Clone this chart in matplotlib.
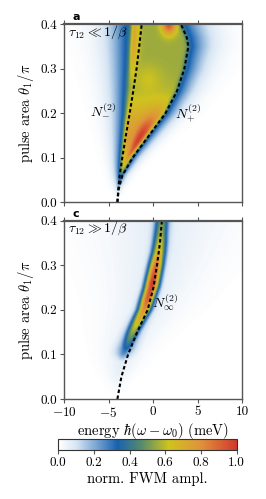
import numpy as np
import matplotlib
matplotlib.use("Agg")
import matplotlib.pyplot as plt
from matplotlib.colors import LinearSegmentedColormap

plt.rcParams['font.family'] = ['cmr10', 'DejaVu Serif']
plt.rcParams['mathtext.fontset'] = 'cm'
plt.rcParams['axes.formatter.use_mathtext'] = True
plt.rcParams['axes.unicode_minus'] = True

# ---------------- data ----------------
# dashed curves (pulse area theta/pi, energy meV)
theta_minus = [0.0, 0.03, 0.06, 0.10, 0.15, 0.20, 0.25, 0.30, 0.35, 0.40]
energy_minus = [-4.0, -3.9, -3.75, -3.45, -3.05, -2.62, -2.22, -1.85, -1.55, -1.27]

theta_plus = [0.0, 0.03, 0.06, 0.10, 0.15, 0.20, 0.25, 0.30, 0.35, 0.37, 0.40]
energy_plus = [-4.0, -3.85, -3.45, -2.3, -0.45, 1.4, 2.7, 3.52, 3.97, 3.8, 3.15]

theta_inf = [0.0, 0.05, 0.10, 0.15, 0.20, 0.25, 0.30, 0.35, 0.40]
energy_inf = [-4.0, -3.55, -2.8, -1.78, -0.6, 0.05, 0.45, 0.78, 1.0]

# left edge of the coloured region in panel a
theta_edge = [0.0, 0.10, 0.20, 0.30, 0.40]
energy_edge_left = [-4.0, -3.5, -3.0, -2.65, -2.35]

# panel c: ridge centre offset and ridge amplitude along the curve
theta_ridge = [0.0, 0.08, 0.10, 0.13, 0.17, 0.22, 0.26, 0.30, 0.33, 0.37, 0.40]
ridge_amp = [0.0, 0.05, 0.25, 0.45, 0.66, 0.9, 1.0, 0.88, 0.7, 0.56, 0.5]
ridge_shift = [0.3, 0.45, 0.5, 0.5, 0.45, 0.32, 0.2, 0.1, 0.0, 0.0, 0.0]

xticks = [-10, -5, 0, 5, 10]
yticks = [0.0, 0.1, 0.2, 0.3, 0.4]
cticks = [0.0, 0.2, 0.4, 0.6, 0.8, 1.0]

cmap_colors = [(0.0, '#ffffff'), (0.1, '#d6e5f3'), (0.33, '#1762b0'),
               (0.47, '#5a8c6a'), (0.62, '#cfc31e'), (0.8, '#e0923a'),
               (1.0, '#d23a2e')]
cmap = LinearSegmentedColormap.from_list('fwm', cmap_colors)

# ---------------- field construction ----------------
x = np.linspace(-10, 10, 240)
y = np.linspace(0, 0.4, 140)
X, Y = np.meshgrid(x, y)
A = 1 - np.exp(-(Y / 0.045) ** 2)

xp = np.interp(Y, theta_plus, energy_plus)
xl = np.interp(Y, theta_edge, energy_edge_left)
xr = xp - 0.15
w = 0.3 + 5.5 * Y
dl = np.clip(xl - X, 0, None)
dr = np.clip(X - xr, 0, None)
d = dl + dr
outside = 0.4 * np.exp(-(d / w) ** 1.3) * A
span = np.maximum(xr - xl, 1e-3)
s = (X - xl) / span
inside = (0.555 + 0.2 * np.exp(-((Y - 0.15) / 0.075) ** 2)
          + 0.24 * np.exp(-((s - 0.72) / 0.25) ** 2) * np.exp(-((Y - 0.14) / 0.055) ** 2)
          + 0.22 * np.exp(-(s / 0.12) ** 2) * np.clip((Y - 0.26) / 0.08, 0, 1)
          + 0.05 * np.exp(-((X + 0.5) / 1.5) ** 2 - ((Y - 0.28) / 0.03) ** 2)
          + 0.37 * np.exp(-((X - 1.8) / 0.8) ** 2 - ((Y - 0.4) / 0.022) ** 2))
dmin = np.minimum(X - xl, xr - X)
win = 1 / (1 + np.exp(-dmin / 0.12))
Za = np.clip(win * inside * A + (1 - win) * outside, 0, 1)

xc = np.interp(Y, theta_inf, energy_inf) - np.interp(Y, theta_ridge, ridge_shift)
ampc = np.interp(Y, theta_ridge, ridge_amp)
dc = X - xc
core = ampc * np.exp(-(dc / 0.85) ** 2)
halo = 0.3 * np.clip(ampc * 3, 0, 1) * np.exp(-(np.abs(dc) / 1.15) ** 1.5)
faint = 0.07 * A * np.exp(-(np.abs(dc) / (0.5 + 15 * Y)) ** 1.5)
Zc = np.clip(np.maximum(np.maximum(core, halo), faint), 0, 1)

# ---------------- figure ----------------
fig = plt.figure(figsize=(2.66, 4.99), dpi=100)
W, H = 266, 499
def ax_rect(l, t, r, b):
    return [l / W, 1 - b / H, (r - l) / W, (b - t) / H]

axa = fig.add_axes(ax_rect(64, 24.3, 242, 202.3))
axc = fig.add_axes(ax_rect(64, 220.7, 242, 399))
cax = fig.add_axes(ax_rect(58.3, 439.3, 236.7, 450))

fs = 9.5
spine_col = '#555555'
for ax, Z in ((axa, Za), (axc, Zc)):
    im = ax.imshow(Z, origin='lower', extent=[-10, 10, 0, 0.4], aspect='auto',
                   cmap=cmap, vmin=0, vmax=1, interpolation='bilinear')
    ax.set_xlim(-10, 10)
    ax.set_ylim(0, 0.4)
    ax.set_xticks(xticks)
    ax.set_yticks(yticks)
    ax.set_yticklabels([f'{v:.1f}' for v in yticks])
    ax.tick_params(direction='out', top=True, labelsize=fs, length=3,
                   color=spine_col, width=0.8, pad=2)
    for sp in ax.spines.values():
        sp.set_color(spine_col)
        sp.set_linewidth(1.0)
    ax.spines['top'].set_linewidth(1.6)
    ax.set_ylabel(r'pulse area $\theta_1/\pi$', fontsize=10.5, labelpad=3)

dash = (0, (1.7, 1.2))
axa.plot(energy_minus, theta_minus, color='black', lw=1.5, linestyle=dash)
axa.plot(energy_plus, theta_plus, color='black', lw=1.5, linestyle=dash)
axc.plot(energy_inf, theta_inf, color='black', lw=1.5, linestyle=dash)

axa.tick_params(labelbottom=False)
axc.set_xticklabels([f'{v:d}' if v >= 0 else r'$-$' + f'{-v:d}' for v in xticks])
axc.set_xlabel(r'energy $\hbar(\omega-\omega_0)$ (meV)', fontsize=10.5, labelpad=0.5)

axa.text(-9.6, 0.383, r'$\tau_{12} \ll 1/\beta$', fontsize=10, va='center', ha='left')
axc.text(-9.6, 0.383, r'$\tau_{12} \gg 1/\beta$', fontsize=10, va='center', ha='left')
axa.text(-5.6, 0.21, r'$N_{-}^{(2)}$', fontsize=10, va='center', ha='center')
axa.text(3.95, 0.20, r'$N_{+}^{(2)}$', fontsize=10, va='center', ha='center')
axc.text(1.35, 0.215, r'$N_{\infty}^{(2)}$', fontsize=10, va='center', ha='center')

axa.text(0.05, 1.012, 'a', transform=axa.transAxes, fontsize=8, fontweight='bold',
         family='DejaVu Sans', va='bottom', ha='left')
axc.text(0.05, 1.012, 'c', transform=axc.transAxes, fontsize=8, fontweight='bold',
         family='DejaVu Sans', va='bottom', ha='left')

cb = fig.colorbar(im, cax=cax, orientation='horizontal', ticks=cticks)
cb.ax.set_xticklabels([f'{v:.1f}' for v in cticks])
cb.ax.tick_params(labelsize=fs, direction='out', length=3, color=spine_col, width=0.8, pad=2)
cb.outline.set_edgecolor('#333333')
cb.outline.set_linewidth(0.8)
cb.set_label('norm. FWM ampl.', fontsize=10.5, labelpad=2)

fig.savefig('out.png', dpi=100)
